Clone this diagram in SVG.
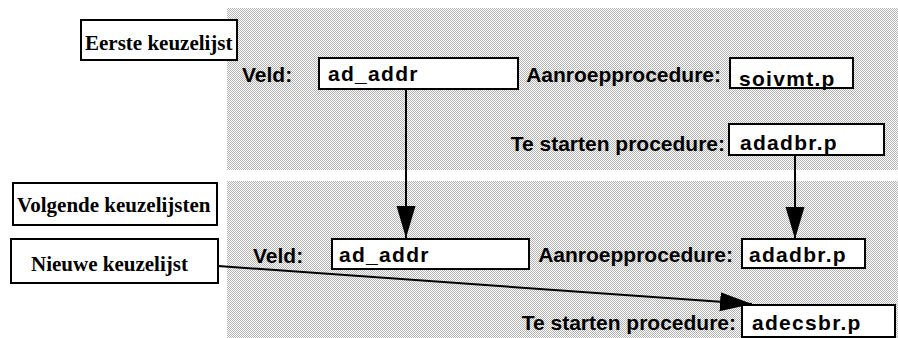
<svg xmlns="http://www.w3.org/2000/svg" width="898" height="338" viewBox="0 0 898 338">
<defs>
<pattern id="dots" patternUnits="userSpaceOnUse" width="2" height="2">
<rect width="2" height="2" fill="#ffffff"/>
<rect x="0" y="0" width="1" height="1" fill="#b4b4b4"/>
<rect x="1" y="1" width="1" height="1" fill="#b4b4b4"/>
</pattern>
<marker id="arr" markerUnits="userSpaceOnUse" markerWidth="34" markerHeight="20" refX="32" refY="9.5" orient="auto">
<path d="M0,0 L32,9.5 L0,19 Z" fill="#000"/>
</marker>
<style>
.panel{fill:url(#dots);stroke:none}
.box{fill:#fff;stroke:#000;stroke-width:2}
.serif{font-family:"Liberation Serif","Times New Roman",serif;font-weight:bold;font-size:21px;fill:#000}
.lbl{font-family:"Liberation Sans",Arial,sans-serif;font-weight:bold;font-size:21px;fill:#000}
.val{font-family:"Liberation Sans",Arial,sans-serif;font-weight:bold;font-size:21px;letter-spacing:1.3px;fill:#000}
.end{text-anchor:end}
.conn{stroke:#000;stroke-width:2;fill:none}
</style>
</defs>
<rect width="898" height="338" fill="#fff"/>
<g id="panels">
<rect class="panel" x="227" y="8" width="671" height="162"/>
<rect class="panel" x="227" y="181" width="671" height="157"/>
</g>
<g id="labels">
<text class="lbl" x="242" y="82">Veld:</text>
<text class="lbl end" x="721" y="82">Aanroepprocedure:</text>
<text class="lbl end" x="725" y="151">Te starten procedure:</text>
<text class="lbl" x="253" y="263">Veld:</text>
<text class="lbl end" x="733" y="262">Aanroepprocedure:</text>
<text class="lbl end" x="736" y="330">Te starten procedure:</text>
</g>
<g id="eerste">
<rect class="box" x="81" y="20" width="156" height="40"/>
<text class="serif" x="85" y="50">Eerste keuzelijst</text>
</g>
<g id="volgende">
<rect class="box" x="13" y="183" width="204" height="42"/>
<text class="serif" x="17" y="212">Volgende keuzelijsten</text>
</g>
<g id="nieuwe">
<rect class="box" x="11" y="239" width="207" height="44"/>
<text class="serif" x="31" y="271">Nieuwe keuzelijst</text>
</g>
<g id="veld1">
<rect class="box" x="319" y="58" width="199" height="31"/>
<text class="val" x="328" y="81">ad_addr</text>
</g>
<g id="aanroep1">
<rect class="box" x="730" y="58" width="123" height="30"/>
<text class="val" x="739" y="86">soivmt.p</text>
</g>
<g id="start1">
<rect class="box" x="729" y="124" width="155" height="31"/>
<text class="val" x="740" y="150">adadbr.p</text>
</g>
<g id="veld2">
<rect class="box" x="332" y="239" width="197" height="30"/>
<text class="val" x="339" y="262">ad_addr</text>
</g>
<g id="aanroep2">
<rect class="box" x="742" y="239" width="123" height="29"/>
<text class="val" x="749" y="262">adadbr.p</text>
</g>
<g id="start2">
<rect class="box" x="742" y="305" width="153" height="32"/>
<text class="val" x="752" y="330">adecsbr.p</text>
</g>
<g id="connectors">
<line class="conn" x1="406" y1="89" x2="406" y2="238" marker-end="url(#arr)"/>
<line class="conn" x1="795" y1="155" x2="795" y2="239" marker-end="url(#arr)"/>
<line class="conn" x1="218" y1="266" x2="752" y2="304" marker-end="url(#arr)"/>
</g>
</svg>
